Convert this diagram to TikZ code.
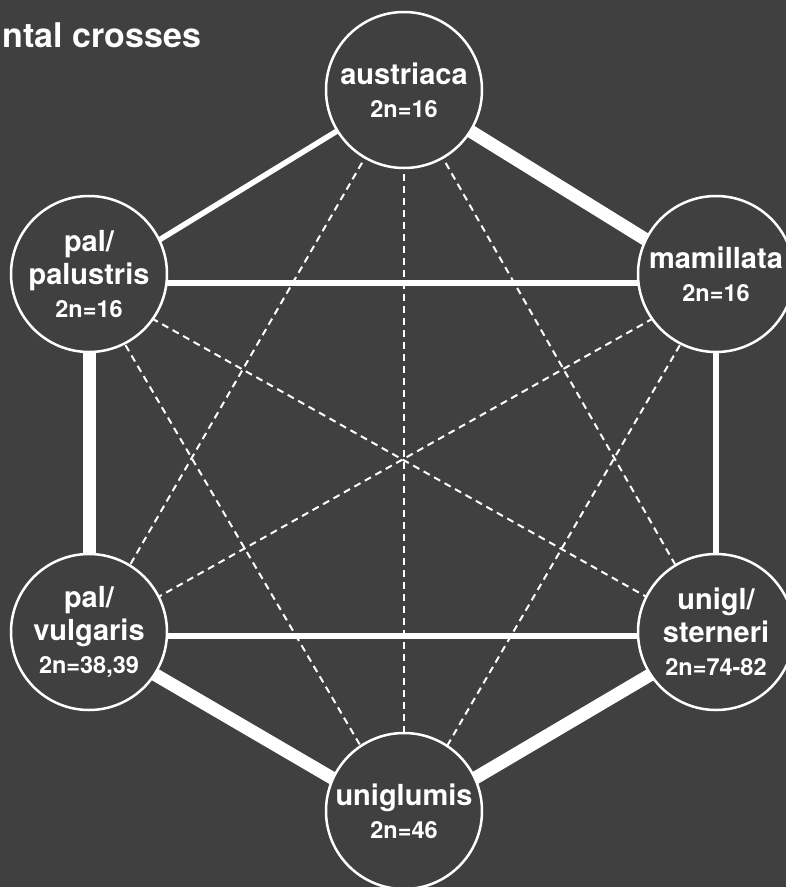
\documentclass[tikz,border=0pt]{standalone}
\usepackage{fontspec}
\setmainfont{TeX Gyre Heros}
\usetikzlibrary{backgrounds}

\definecolor{slate}{HTML}{404040}
\newcommand{\chromo}[1]{{\fontsize{23.5}{33}\selectfont #1}}

\begin{document}
\begin{tikzpicture}[
  x=1pt, y=-1pt,
  species/.style = {
    draw=white, circle, line width=2.5pt, fill=slate,
    minimum size=156pt, inner sep=0pt,
    align=center, text=white,
    font=\fontsize{29}{33}\selectfont\bfseries
  },
  solidcross/.style = {draw=white, line width=5.5pt},
  strongcross/.style = {draw=white, line width=13pt},
  weakcross/.style = {draw=white, line width=2pt, dash pattern=on 7pt off 5pt}
]
\useasboundingbox (0,0) rectangle (786,887);

\node[anchor=base west, text=white, font=\fontsize{34}{36}\selectfont\bfseries] (title) at (-1,47) {ntal crosses};

\node[species] (austriaca) at (404,90)  {austriaca\\\chromo{2n=16}};
\node[species] (palustris) at (89,274)  {pal/\\palustris\\\chromo{2n=16}};
\node[species] (mamillata) at (716,274) {mamillata\\\chromo{2n=16}};
\node[species] (vulgaris)  at (89,632)  {pal/\\vulgaris\\\chromo{2n=38,39}};
\node[species] (sterneri)  at (716,632) {unigl/\\sterneri\\\chromo{2n=74-82}};
\node[species] (uniglumis) at (404,811) {uniglumis\\\chromo{2n=46}};

\begin{pgfonlayer}{background}
\fill[slate] (0,0) rectangle (786,887);

% successful crosses
\draw[solidcross] (austriaca.center) -- ([yshift=-9pt]palustris.center);
\draw[solidcross] ([yshift=-9pt]palustris.center) -- ([yshift=-9pt]mamillata.center);
\draw[solidcross] ([yshift=-9pt]mamillata.center) -- ([yshift=-4pt]sterneri.center);
\draw[solidcross] ([yshift=-4pt]vulgaris.center) -- ([yshift=-4pt]sterneri.center);

\draw[strongcross] (austriaca.center) -- ([yshift=-9pt]mamillata.center);
\draw[strongcross] ([yshift=-9pt]palustris.center) -- ([yshift=-4pt]vulgaris.center);
\draw[strongcross] ([yshift=-4pt]vulgaris.center) -- ([yshift=-9pt]uniglumis.center);
\draw[strongcross] ([yshift=-4pt]sterneri.center) -- ([yshift=-9pt]uniglumis.center);

% failed crosses
\draw[weakcross] (austriaca.center) -- ([yshift=-4pt]vulgaris.center);
\draw[weakcross] (austriaca.center) -- ([yshift=-9pt]uniglumis.center);
\draw[weakcross] (austriaca.center) -- ([yshift=-4pt]sterneri.center);
\draw[weakcross] ([yshift=-9pt]palustris.center) -- ([yshift=-4pt]sterneri.center);
\draw[weakcross] ([yshift=-9pt]palustris.center) -- ([yshift=-9pt]uniglumis.center);
\draw[weakcross] ([yshift=-9pt]mamillata.center) -- ([yshift=-4pt]vulgaris.center);
\draw[weakcross] ([yshift=-9pt]mamillata.center) -- ([yshift=-9pt]uniglumis.center);
\end{pgfonlayer}

\end{tikzpicture}
\end{document}
